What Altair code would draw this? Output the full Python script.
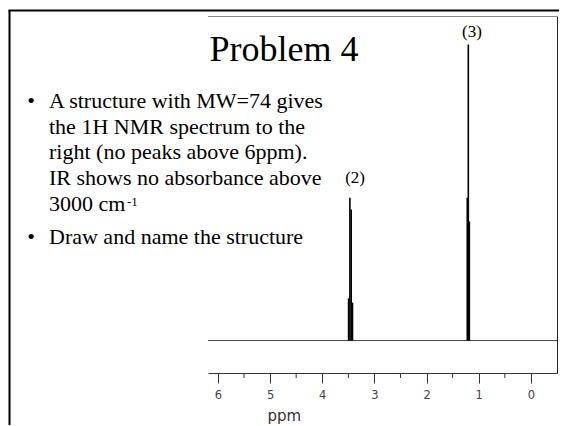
import altair as alt
import pandas as pd

# ---- data ----
quartet_ppm = [3.495, 3.47, 3.445, 3.42]
quartet_int = [0.13, 0.44, 0.404, 0.117]
triplet_ppm = [1.22, 1.20, 1.18]
triplet_int = [0.44, 0.912, 0.367]
major_ticks = [6, 5, 4, 3, 2, 1, 0]
minor_ticks = [5.5, 4.5, 3.5, 2.5, 1.5, 0.5]
peak_label_text = ["(2)", "(3)"]
peak_label_ppm = [3.37, 1.13]
title_text = "Problem 4"
bullet1_lines = ["A structure with MW=74 gives", "the 1H NMR spectrum to the",
                 "right (no peaks above 6ppm).", "IR shows no absorbance above", "3000 cm"]
sup_text = "-1"
bullet2_text = "Draw and name the structure"
axis_title = "ppm"

WV, HV = 549, 365          # whole view; spectrum box occupies x 200..549, y 8..365
X0 = 200
SERIF = "Liberation Serif"
SANS = "DejaVu Sans"

peaks = pd.DataFrame({
    "ppm": quartet_ppm + triplet_ppm,
    "base": [0.0] * (len(quartet_ppm) + len(triplet_ppm)),
    "intensity": quartet_int + triplet_int,
})
xscale = alt.Scale(domain=[6.19, -0.5], range=[X0, WV], nice=False, zero=False)
yscale = alt.Scale(domain=[-0.1, 1.0], range=[HV, 8], nice=False, zero=False)

peak_layer = alt.Chart(peaks).mark_rule(color="black", strokeWidth=1.6).encode(
    x=alt.X("ppm:Q", scale=xscale,
            axis=alt.Axis(values=major_ticks, title=axis_title, titleX=259, titleY=47,
                          titleAlign="left", titleBaseline="alphabetic",
                          titleFont=SANS, titleFontSize=15, titleFontWeight="normal",
                          titleColor="#333", labelFont=SANS, labelFontSize=11.5,
                          labelColor="#444", labelPadding=6, tickSize=10,
                          tickColor="#333", domainColor="#333", grid=False,
                          format="d", labelFlush=False)),
    y=alt.Y("base:Q", scale=yscale,
            axis=alt.Axis(orient="right", ticks=False, labels=False, domain=True,
                          domainColor="#222", grid=False, title="")),
    y2="intensity:Q",
)

baseline = alt.Chart(pd.DataFrame({"v": [0.0]})).mark_rule(color="#444", strokeWidth=1).encode(
    y=alt.Y("v:Q", scale=yscale), x=alt.value(X0), x2=alt.value(WV))

top_line = alt.Chart(pd.DataFrame({"v": [0]})).mark_rule(color="#888", strokeWidth=1).encode(
    y=alt.value(8.5), x=alt.value(X0), x2=alt.value(WV))

minor = alt.Chart(pd.DataFrame({"t": minor_ticks})).mark_rule(color="#333", strokeWidth=1).encode(
    x=alt.X("t:Q", scale=xscale), y=alt.value(HV), y2=alt.value(HV + 5))

# slide border: left and top edges of the slide frame
border_left = alt.Chart(pd.DataFrame({"v": [1]})).mark_rule(
    color="black", strokeWidth=2).encode(
    x=alt.value(1.5), y=alt.value(2), y2=alt.value(HV + 52))
border_top = alt.Chart(pd.DataFrame({"v": [2]})).mark_rule(
    color="black", strokeWidth=2).encode(
    y=alt.value(2.5), x=alt.value(0.5), x2=alt.value(WV + 2))

title = alt.Chart(pd.DataFrame({"t": [title_text]})).mark_text(
    font=SERIF, fontSize=36, align="center", baseline="alphabetic", color="black").encode(
    x=alt.value(276), y=alt.value(53), text="t:N")

b1 = alt.Chart(pd.DataFrame({"t": ["\n".join(bullet1_lines)]})).mark_text(
    font=SERIF, fontSize=22, align="left", baseline="alphabetic", lineBreak="\n",
    lineHeight=25.7, color="black").encode(x=alt.value(41), y=alt.value(100), text="t:N")
sup = alt.Chart(pd.DataFrame({"t": [sup_text]})).mark_text(
    font=SERIF, fontSize=13, align="left", baseline="alphabetic", color="black").encode(
    x=alt.value(119), y=alt.value(198), text="t:N")
b2 = alt.Chart(pd.DataFrame({"t": [bullet2_text]})).mark_text(
    font=SERIF, fontSize=22, align="left", baseline="alphabetic", color="black").encode(
    x=alt.value(41), y=alt.value(236), text="t:N")
dot_style = dict(font=SERIF, fontSize=22, align="center", baseline="alphabetic", color="black")
dot1 = alt.Chart(pd.DataFrame({"t": ["\u2022"]})).mark_text(**dot_style).encode(
    x=alt.value(23), y=alt.value(100), text="t:N")
dot2 = alt.Chart(pd.DataFrame({"t": ["\u2022"]})).mark_text(**dot_style).encode(
    x=alt.value(23), y=alt.value(236), text="t:N")

lab_style = dict(font=SERIF, fontSize=17, align="center", baseline="middle", color="black")
lab2 = alt.Chart(pd.DataFrame({"t": [peak_label_text[0]], "ppm": [peak_label_ppm[0]]})).mark_text(
    **lab_style).encode(x=alt.X("ppm:Q", scale=xscale), y=alt.value(170), text="t:N")
lab3 = alt.Chart(pd.DataFrame({"t": [peak_label_text[1]], "ppm": [peak_label_ppm[1]]})).mark_text(
    **lab_style).encode(x=alt.X("ppm:Q", scale=xscale), y=alt.value(24), text="t:N")

chart = alt.layer(top_line, baseline, minor, peak_layer,
                  title, b1, sup, b2, dot1, dot2, lab2, lab3,
                  border_left, border_top).properties(
    width=WV, height=HV,
    autosize=alt.AutoSizeParams(type="none"),
    padding={"left": 0, "top": 0, "right": 2, "bottom": 52},
    background="white",
).configure_view(strokeWidth=0)

chart.save("out.html", embed_options={"renderer": "svg", "actions": False})
